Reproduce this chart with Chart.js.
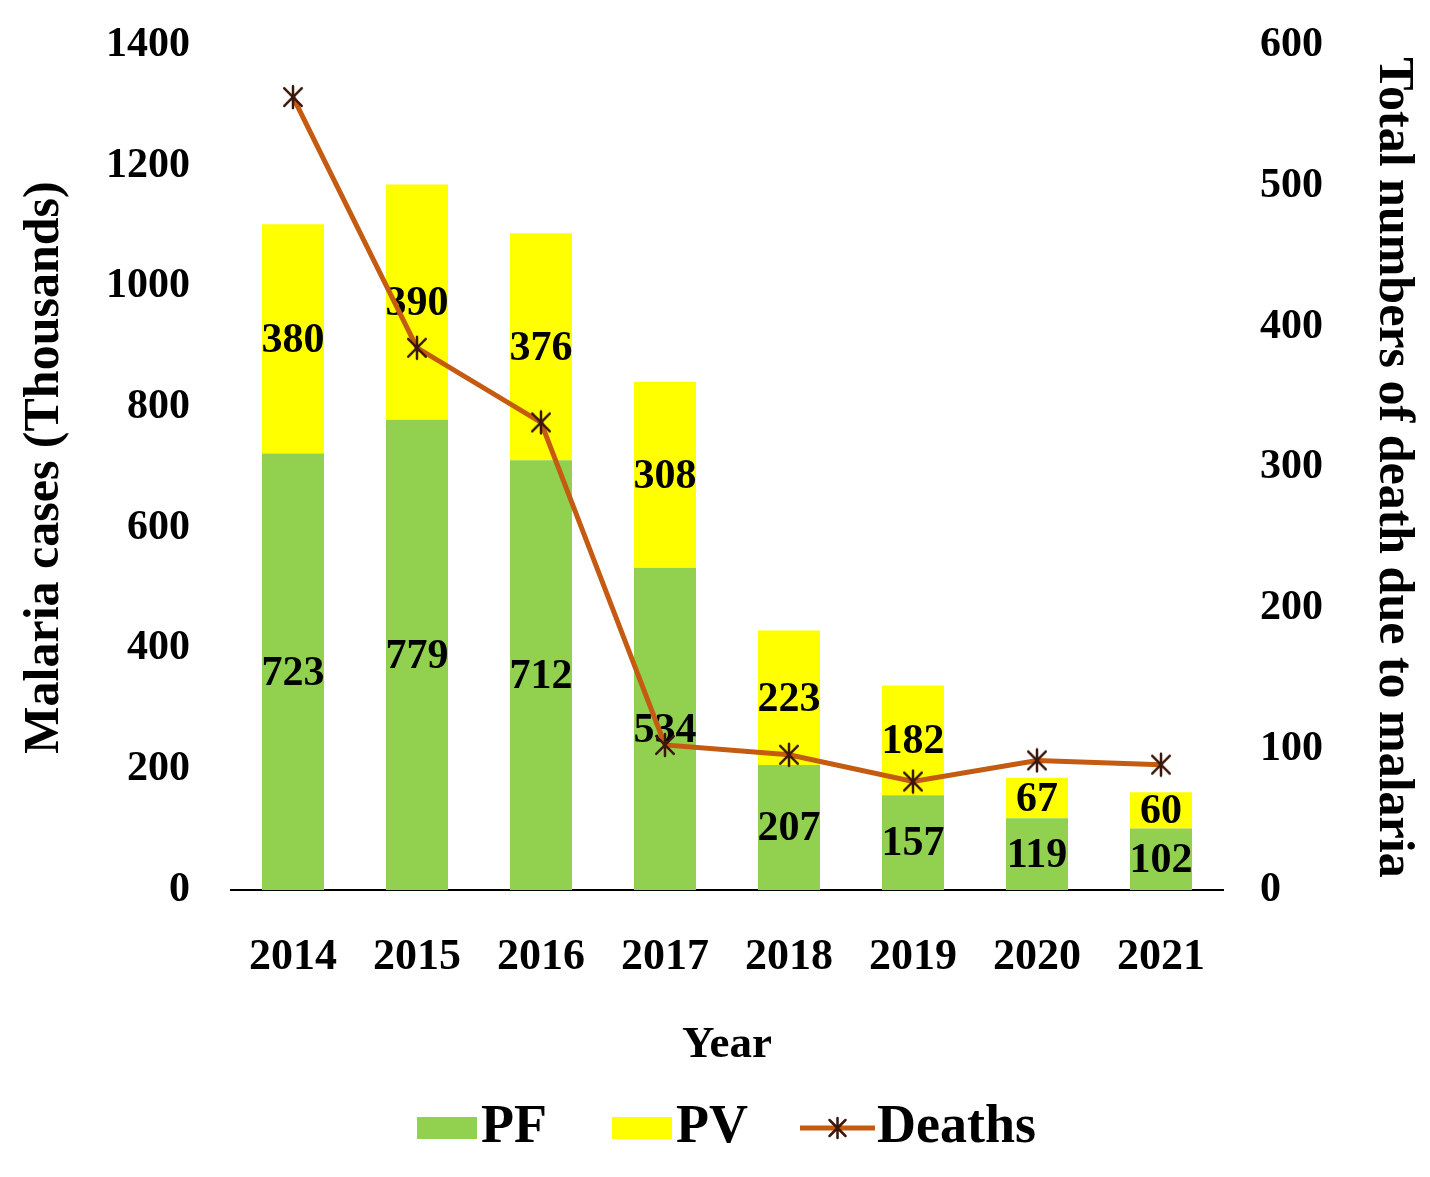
<!DOCTYPE html>
<html>
<head>
<meta charset="utf-8">
<script src="https://cdn.jsdelivr.net/npm/chart.js@4.4.1/dist/chart.umd.min.js"></script>
<style>
  html, body { margin: 0; padding: 0; background: #fff; }
  #wrap { width: 1430px; height: 1177px; position: relative; }
</style>
</head>
<body>
<div id="wrap"><canvas id="malariaChart"></canvas></div>
<script>
// ── Data ──────────────────────────────────────────────────────────────────
const years     = ['2014', '2015', '2016', '2017', '2018', '2019', '2020', '2021'];
const pfCases   = [723, 779, 712, 534, 207, 157, 119, 102];
const pvCases   = [380, 390, 376, 308, 223, 182, 67, 60];
const deaths    = [563, 385, 332, 103, 96, 77, 92, 89];
const caseTicks = [0, 200, 400, 600, 800, 1000, 1200, 1400];
const deathTicks = [0, 100, 200, 300, 400, 500, 600];

const GREEN = '#92D050', YELLOW = '#FFFF00', BROWN = '#C55A11', DARK = '#3b160a';
const SERIF = '"Liberation Serif", "Times New Roman", serif';

// ── Marker images ─────────────────────────────────────────────────────────
function asterisk(ctx, cx, cy, r) {
  ctx.strokeStyle = DARK; ctx.lineWidth = 2.5; ctx.lineCap = 'round';
  ctx.beginPath();
  ctx.moveTo(cx, cy - r); ctx.lineTo(cx, cy + r);
  ctx.moveTo(cx - r * 0.8, cy - r * 0.8); ctx.lineTo(cx + r * 0.8, cy + r * 0.8);
  ctx.moveTo(cx + r * 0.8, cy - r * 0.8); ctx.lineTo(cx - r * 0.8, cy + r * 0.8);
  ctx.stroke();
}
function makeCanvas(w, h, draw) {
  const c = document.createElement('canvas');
  c.width = w; c.height = h;
  draw(c.getContext('2d'));
  return c;
}
const starImg = makeCanvas(26, 26, ctx => asterisk(ctx, 13, 13, 11));
// legend swatches are offset to the right so they sit close to their text
const boxImg = color => makeCanvas(106, 24, ctx => { ctx.fillStyle = color; ctx.fillRect(46, 1, 60, 22); });
const deathsImg = makeCanvas(110, 26, ctx => {
  ctx.strokeStyle = BROWN; ctx.lineWidth = 5;
  ctx.beginPath(); ctx.moveTo(35, 13); ctx.lineTo(110, 13); ctx.stroke();
  asterisk(ctx, 72.5, 13, 10);
});
const legendImgs = [boxImg(GREEN), boxImg(YELLOW), deathsImg];

// ── Value labels inside bars (drawn before the line) ──────────────────────
const barLabels = {
  id: 'barLabels',
  afterDatasetDraw(chart, args) {
    const ds = chart.data.datasets[args.index];
    if (ds.type !== 'bar') return;
    const ctx = chart.ctx;
    ctx.save();
    ctx.font = `bold 42px ${SERIF}`;
    ctx.fillStyle = '#000';
    ctx.textAlign = 'center';
    ctx.textBaseline = 'middle';
    args.meta.data.forEach((el, i) => {
      ctx.fillText(String(ds.data[i]), el.x, (el.y + el.base) / 2 + 2);
    });
    ctx.restore();
  }
};

const tickFont = { family: SERIF, size: 42, weight: 'bold', lineHeight: 0.1 };

new Chart(document.getElementById('malariaChart'), {
  data: {
    labels: years,
    datasets: [
      { type: 'bar', label: 'PF', data: pfCases, backgroundColor: GREEN, yAxisID: 'y',
        order: 1, barPercentage: 0.5, categoryPercentage: 1.0 },
      { type: 'bar', label: 'PV', data: pvCases, backgroundColor: YELLOW, yAxisID: 'y',
        order: 1, barPercentage: 0.5, categoryPercentage: 1.0 },
      { type: 'line', label: 'Deaths', data: deaths, yAxisID: 'y1', order: 0,
        borderColor: BROWN, borderWidth: 5, tension: 0,
        pointStyle: starImg, pointRadius: 11, pointHoverRadius: 11 }
    ]
  },
  plugins: [barLabels],
  options: {
    responsive: true, maintainAspectRatio: false, animation: false,
    layout: { padding: { top: 45, left: 0, right: 0, bottom: 12 } },
    plugins: {
      tooltip: { enabled: false },
      legend: {
        position: 'bottom',
        labels: {
          usePointStyle: true, pointStyleWidth: 60, padding: 42,
          color: '#000', font: { family: SERIF, size: 54, weight: 'bold' },
          sort: (a, b) => a.datasetIndex - b.datasetIndex,
          generateLabels: chart => Chart.defaults.plugins.legend.labels.generateLabels(chart)
            .map(item => ({ ...item, pointStyle: legendImgs[item.datasetIndex] }))
        }
      }
    },
    scales: {
      x: {
        stacked: true,
        grid: { display: false, drawTicks: false },
        border: { display: true, color: '#000', width: 2 },
        ticks: { color: '#000', padding: 46, maxRotation: 0, autoSkip: false,
                 font: { family: SERIF, size: 44, weight: 'bold', lineHeight: 1 } },
        title: { display: true, text: 'Year', color: '#000', padding: 0,
                 font: { family: SERIF, size: 45, weight: 'bold', lineHeight: 0.62 } },
        afterFit: s => { s.height = 169; }
      },
      y: {
        stacked: true, position: 'left', min: 0, max: 1400,
        grid: { display: false, drawTicks: false },
        border: { display: false },
        afterBuildTicks: s => { s.ticks = caseTicks.map(v => ({ value: v })); },
        ticks: { color: '#000', padding: 41, font: tickFont, callback: v => String(v) },
        title: { display: true, text: 'Malaria cases (Thousands)', color: '#000',
                 padding: { top: 20, bottom: 0 },
                 font: { family: SERIF, size: 50, weight: 'bold', lineHeight: 1 } },
        afterFit: s => { s.width = 231; }
      },
      y1: {
        stacked: false, position: 'right', min: 0, max: 600,
        grid: { display: false, drawTicks: false },
        border: { display: false },
        afterBuildTicks: s => { s.ticks = deathTicks.map(v => ({ value: v })); },
        ticks: { color: '#000', padding: 37, font: tickFont, callback: v => String(v) },
        title: { display: true, text: 'Total numbers of death due to malaria', color: '#000',
                 padding: { top: 12, bottom: 0 },
                 font: { family: SERIF, size: 50, weight: 'bold', lineHeight: 1 } },
        afterFit: s => { s.width = 207; }
      }
    }
  }
});
</script>
</body>
</html>
